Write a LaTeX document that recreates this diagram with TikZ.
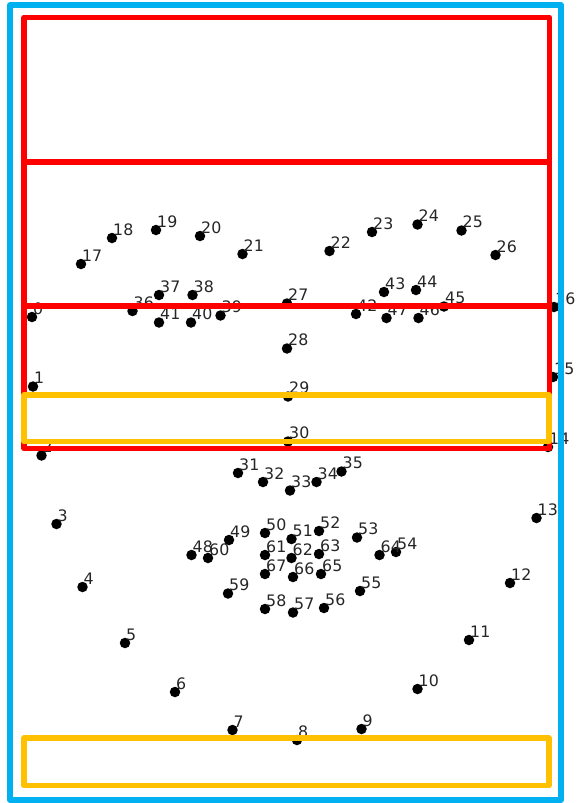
\documentclass[tikz,border=0pt]{standalone}
\usepackage{fontspec}
\setmainfont{DejaVu Sans}
\definecolor{frameblue}{HTML}{00B0F0}
\definecolor{boxred}{HTML}{FF0000}
\definecolor{bandyellow}{HTML}{FFC000}
\begin{document}
\begin{tikzpicture}[x=1pt,y=-1pt,
  lmk/.style={circle,fill=black,inner sep=0pt,minimum size=10.5pt},
  num/.style={anchor=base west,inner sep=0pt,text=black!85,font=\fontsize{15.8}{16}\selectfont},
  box/.style={line width=5.5pt,line join=round}]
\useasboundingbox (0,0) rectangle (577,803);
% landmarks with their numbers
\foreach \i/\x/\y in {0/32/317,1/33/386.5,2/41.5/455.5,3/56.5/524,4/82.5/587,5/125/643,6/175/692,
  7/232.5/730,8/297/740,9/361.5/729,10/417.5/689,11/469/640,12/510/583,13/536.5/518,
  14/548/447,15/553/377,16/554/307,17/81/264,18/112/238,19/156/230,20/200/236,21/242.5/254,
  22/329.5/251,23/372/232,24/417.5/224.5,25/461.5/230.5,26/495.5/255,27/287/303.5,28/287/348.5,
  29/288/396.5,30/288/441.5,31/238/473,32/263/482,33/290/490.5,34/316.5/482,35/341.5/471.5,
  36/132.5/311,37/159/295,38/192.5/295,39/220.5/315.5,40/191/322.5,41/159/322.5,
  42/356/314,43/384/292,44/416/290,45/444/306.5,46/418.5/318,47/386.5/318,
  48/191.5/555,49/229/540,50/265/533,51/291.5/539,52/319/531,53/357/537.5,54/396/552,
  55/360/591,56/324/608,57/293/612.5,58/265/609,59/228/593.5,60/208/558,61/265/555,
  62/291.5/558,63/319/554,64/379.5/555,65/321/574,66/293/577,67/265/574}{
  \node[lmk] (p\i) at (\x,\y) {};
  \node[num] (n\i) at ([xshift=1pt,yshift=3pt]p\i.center) {\i};
}
% regions
\draw[box,boxred] (24,17.5) rectangle (549.5,448.5);
\draw[box,boxred] (24,162) -- (549.5,162);
\draw[box,boxred] (24,306) -- (549.5,306);
\draw[box,bandyellow] (24,395) rectangle (549,441.5);
\draw[box,bandyellow] (24,738) rectangle (549,785.5);
\draw[box,frameblue] (10,5) rectangle (561,800);
\end{tikzpicture}
\end{document}
